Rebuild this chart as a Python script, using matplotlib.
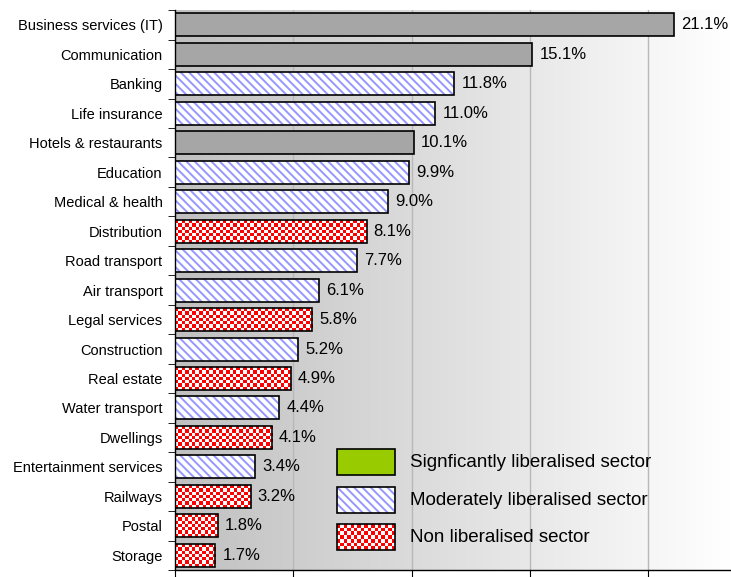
import numpy as np
import matplotlib
matplotlib.use('Agg')
import matplotlib.pyplot as plt
from matplotlib.patches import Rectangle

plt.rcParams['font.family'] = 'Liberation Sans'
plt.rcParams['hatch.linewidth'] = 1.4

# data, top to bottom
sectors = ['Business services (IT)', 'Communication', 'Banking', 'Life insurance',
           'Hotels & restaurants', 'Education', 'Medical & health', 'Distribution',
           'Road transport', 'Air transport', 'Legal services', 'Construction',
           'Real estate', 'Water transport', 'Dwellings', 'Entertainment services',
           'Railways', 'Postal', 'Storage']
shares = [21.1, 15.1, 11.8, 11.0, 10.1, 9.9, 9.0, 8.1, 7.7, 6.1, 5.8, 5.2,
          4.9, 4.4, 4.1, 3.4, 3.2, 1.8, 1.7]
# g = not classified (grey), m = moderately, n = non liberalised
kind = ['g', 'g', 'm', 'm', 'g', 'm', 'm', 'n', 'm', 'm', 'n', 'm',
        'n', 'm', 'n', 'm', 'n', 'n', 'n']
legend_labels = ['Signficantly liberalised sector', 'Moderately liberalised sector',
                 'Non liberalised sector']

grey = '#a6a6a6'
blue = '#9696ff'
red = '#ff0000'
green = '#99cc00'
bar_h = 0.78

fig = plt.figure(figsize=(7.31, 5.77), dpi=100)
ax = fig.add_axes([0.2394, 0.012, 0.7606, 0.9705])

# background gradient
grad = np.linspace(0, 1, 256).reshape(1, -1)
ax.imshow(grad, cmap=matplotlib.colors.LinearSegmentedColormap.from_list('bg', ['#c0c0c0', '#ffffff']),
          extent=[0, 1, 0, 1], transform=ax.transAxes, aspect='auto', zorder=0)

ypos = np.arange(len(sectors))[::-1]


def checker_fill(x0, x1, y0, y1, clip):
    nx = max(1, int(round((x1 - x0) * 23.67 / 3.4)))
    ny = 7
    yy, xx = np.indices((ny, nx))
    board = (xx + yy) % 2
    cmap = matplotlib.colors.ListedColormap([red, 'white'])
    im = ax.imshow(board, cmap=cmap, extent=[x0, x1, y0, y1], aspect='auto',
                   interpolation='nearest', zorder=2)
    im.set_clip_path(clip)


for y, v, k in zip(ypos, shares, kind):
    if k == 'g':
        ax.barh(y, v, height=bar_h, color=grey, edgecolor='black', linewidth=1.2, zorder=3)
    elif k == 'm':
        ax.barh(y, v, height=bar_h, color='white', edgecolor=blue, hatch='\\\\\\\\',
                linewidth=0, zorder=2)
        ax.barh(y, v, height=bar_h, fill=False, edgecolor='black', linewidth=1.2, zorder=3)
    else:
        b = ax.barh(y, v, height=bar_h, fill=False, edgecolor='black', linewidth=1.2, zorder=3)
        checker_fill(0, v, y - bar_h / 2, y + bar_h / 2, b.patches[0])
    ax.text(v + 0.3, y, '%.1f%%' % v, va='center', ha='left', fontsize=12, zorder=4)

ax.set_xlim(0, 23.5)
ax.set_ylim(-0.5, len(sectors) - 0.5)
ax.set_xticks([0, 5, 10, 15, 20])
ax.set_xticklabels([])
ax.xaxis.grid(True, color='#b8b8b8', linewidth=1, zorder=1)
ax.set_axisbelow(True)

ax.set_yticks(ypos)
ax.set_yticklabels(sectors, fontsize=10.5)
ax.set_yticks(np.arange(-0.5, len(sectors), 1), minor=True)
ax.tick_params(axis='y', which='major', length=0, pad=9)
ax.tick_params(axis='y', which='minor', length=5, direction='out')
ax.tick_params(axis='x', length=5, direction='out')
for s in ['top', 'right']:
    ax.spines[s].set_visible(False)
for s in ['left', 'bottom']:
    ax.spines[s].set_linewidth(1.0)
    ax.spines[s].set_zorder(5)

# legend drawn by hand in axes fraction
lx, lw, lh = 0.2917, 0.104, 0.046
ly = [0.170, 0.102, 0.036]
for yl, lab, idx in zip(ly, legend_labels, range(3)):
    if idx == 0:
        r = Rectangle((lx, yl), lw, lh, transform=ax.transAxes, facecolor=green,
                      edgecolor='black', linewidth=1.2, zorder=6)
        ax.add_patch(r)
    elif idx == 1:
        ax.add_patch(Rectangle((lx, yl), lw, lh, transform=ax.transAxes, facecolor='white',
                               edgecolor=blue, hatch='\\\\\\\\', linewidth=0, zorder=6))
        ax.add_patch(Rectangle((lx, yl), lw, lh, transform=ax.transAxes, fill=False,
                               edgecolor='black', linewidth=1.2, zorder=7))
    else:
        r = Rectangle((lx, yl), lw, lh, transform=ax.transAxes, fill=False,
                      edgecolor='black', linewidth=1.2, zorder=7)
        ax.add_patch(r)
        yy, xx = np.indices((7, 17))
        im = ax.imshow((xx + yy) % 2, cmap=matplotlib.colors.ListedColormap([red, 'white']),
                       extent=[lx, lx + lw, yl, yl + lh], transform=ax.transAxes,
                       aspect='auto', interpolation='nearest', zorder=6)
        im.set_clip_path(r)
    ax.text(lx + lw + 0.027, yl + lh / 2, lab, transform=ax.transAxes, fontsize=13.5,
            va='center', ha='left', zorder=7)

ax.set_xlim(0, 23.5)
ax.set_ylim(-0.5, len(sectors) - 0.5)
fig.savefig('out.png', dpi=100)
